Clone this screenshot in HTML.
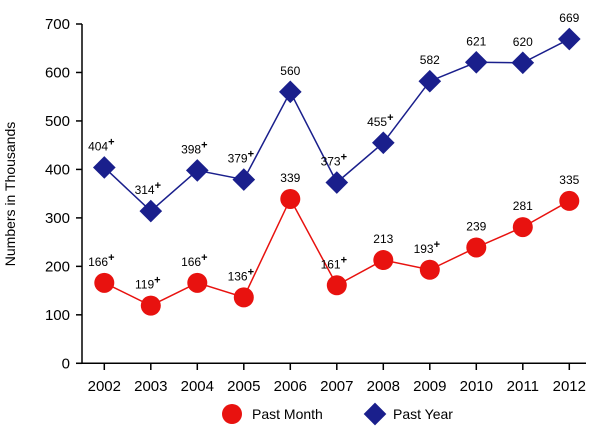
<!DOCTYPE html>
<html><head><meta charset="utf-8"><style>
body{margin:0;background:#fff;}
svg{display:block;font-family:"Liberation Sans",Arial,sans-serif;}
</style></head><body>
<svg id="chart" width="600" height="429" viewBox="0 0 600 429">
<g id="axes"></g><g id="series"></g>
<text transform="translate(15,194) rotate(-90)" text-anchor="middle" font-size="14" fill="#000">Numbers in Thousands</text>
<g>
<circle cx="232" cy="414" r="10" fill="#e8120f"/>
<text x="252" y="419" font-size="14">Past Month</text>
<rect x="367" y="406" width="16" height="16" fill="#1a1f8c" transform="rotate(45 375 414)"/>
<text x="393" y="419" font-size="14">Past Year</text>
</g>
</svg>
<script>
const years=["2002","2003","2004","2005","2006","2007","2008","2009","2010","2011","2012"];
const pastMonth=[166,119,166,136,339,161,213,193,239,281,335];
const pastMonthPlus=[1,1,1,1,0,1,0,1,0,0,0];
const pastYear=[404,314,398,379,560,373,455,582,621,620,669];
const pastYearPlus=[1,1,1,1,0,1,1,0,0,0,0];
const yTicks=[0,100,200,300,400,500,600,700];
const NS="http://www.w3.org/2000/svg";
const x=i=>104.3+i*46.5;
const y=v=>363.3-v*(339.3/700);
function mk(tag,attrs,parent){const e=document.createElementNS(NS,tag);for(const k in attrs)e.setAttribute(k,attrs[k]);parent.appendChild(e);return e;}
const ax=document.getElementById('axes'),se=document.getElementById('series');
let a=mk('line',{x1:82,y1:24,x2:82,y2:363.3,stroke:'#000','stroke-width':1.5},ax);

a=mk('line',{x1:76,y1:363.3,x2:586,y2:363.3,stroke:'#000','stroke-width':1.5},ax);

yTicks.forEach(v=>{
 mk('line',{x1:76,y1:y(v),x2:82,y2:y(v),stroke:'#000','stroke-width':1.5},ax);
 const t=mk('text',{x:70,y:y(v)+5,'text-anchor':'end','font-size':15},ax);t.textContent=v;
 
});
years.forEach((yr,i)=>{
 mk('line',{x1:x(i),y1:363.3,x2:x(i),y2:370,stroke:'#000','stroke-width':1.5},ax);
 const t=mk('text',{x:x(i),y:391,'text-anchor':'middle','font-size':15},ax);t.textContent=yr;
 
});
function series(vals,plus,color,shape,name){
 const p=mk('polyline',{points:vals.map((v,i)=>x(i)+','+y(v)).join(' '),fill:'none',stroke:color,'stroke-width':1.5},se);
 
 vals.forEach((v,i)=>{
  let m;
  if(shape==='circle')m=mk('circle',{cx:x(i),cy:y(v),r:10,fill:color},se);
  else m=mk('rect',{x:x(i)-8,y:y(v)-8,width:16,height:16,fill:color,transform:`rotate(45 ${x(i)} ${y(v)})`},se);
  
  const t=mk('text',{x:x(i)+(plus[i]?-3:0),y:y(v)-17,'text-anchor':'middle','font-size':12},se);
  t.textContent=v;
  if(plus[i]){const s=mk('tspan',{dy:-5,'font-size':11,'font-weight':'bold'},t);s.textContent='+';}
  
 });
}
series(pastYear,pastYearPlus,'#1a1f8c','diamond','past-year');
series(pastMonth,pastMonthPlus,'#e8120f','circle','past-month');
</script>
</body></html>
